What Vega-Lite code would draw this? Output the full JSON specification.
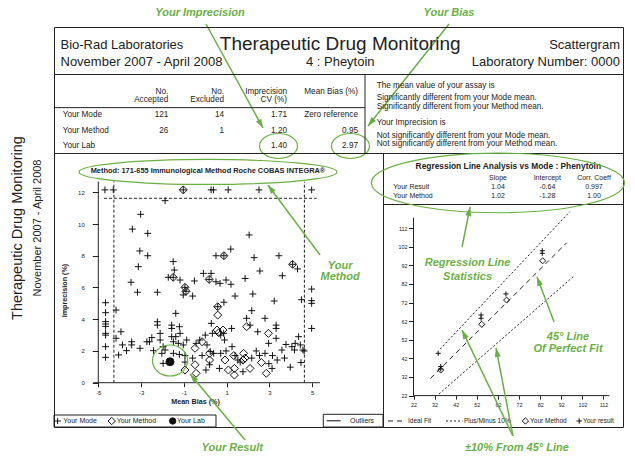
{
  "$schema": "https://vega.github.io/schema/vega-lite/v6.json",
  "padding": 0,
  "background": "white",
  "bounds": "flush",
  "spacing": 0,
  "config": {
    "font": "Liberation Sans",
    "view": {"stroke": "#222", "strokeWidth": 1},
    "concat": {"spacing": 0},
    "text": {"font": "Liberation Sans", "color": "#222"},
    "axis": {"labelFont": "Liberation Sans", "titleFont": "Liberation Sans", "grid": false, "domain": false, "tickColor": "#222", "labelColor": "#222", "titleColor": "#222", "labelOverlap": false, "labelFlush": false}
  },
  "datasets": {
    "tableHead": [
      {"text": "No.", "col": 1, "line": 0}, {"text": "Accepted", "col": 1, "line": 1},
      {"text": "No.", "col": 2, "line": 0}, {"text": "Excluded", "col": 2, "line": 1},
      {"text": "Imprecision", "col": 3, "line": 0}, {"text": "CV (%)", "col": 3, "line": 1},
      {"text": "Mean Bias (%)", "col": 4, "line": 0}
    ],
    "tableBody": [
      {"text": "Your Mode", "col": 0, "line": 0}, {"text": "121", "col": 1, "line": 0}, {"text": "14", "col": 2, "line": 0}, {"text": "1.71", "col": 3, "line": 0}, {"text": "Zero reference", "col": 4, "line": 0},
      {"text": "Your Method", "col": 0, "line": 1}, {"text": "26", "col": 1, "line": 1}, {"text": "1", "col": 2, "line": 1}, {"text": "1.20", "col": 3, "line": 1}, {"text": "0.95", "col": 4, "line": 1},
      {"text": "Your Lab", "col": 0, "line": 2}, {"text": "1.40", "col": 3, "line": 2}, {"text": "2.97", "col": 4, "line": 2}
    ],
    "notes": [
      {"text": "The mean value of your assay is", "line": 0},
      {"text": "Significantly different from your Mode mean.", "line": 1},
      {"text": "Significantly different from your Method mean.", "line": 2},
      {"text": "Your Imprecision is", "line": 3},
      {"text": "Not significantly different from your Mode mean.", "line": 4},
      {"text": "Not significantly different from your Method mean.", "line": 5}
    ],
    "scatter": [
      {"group": "Your Mode", "bias": -4.69, "cv": 12.15}, {"group": "Your Mode", "bias": -4.30, "cv": 12.15}, {"group": "Your Mode", "bias": -1.03, "cv": 12.15}, {"group": "Your Mode", "bias": 0.27, "cv": 12.15}, {"group": "Your Mode", "bias": 0.38, "cv": 12.15}, {"group": "Your Mode", "bias": 1.07, "cv": 12.15}, {"group": "Your Mode", "bias": 2.51, "cv": 12.15}, {"group": "Your Mode", "bias": 4.97, "cv": 12.15},
      {"group": "Your Mode", "bias": -1.88, "cv": 11.47}, {"group": "Your Mode", "bias": -3.02, "cv": 10.61}, {"group": "Your Mode", "bias": -3.41, "cv": 9.68}, {"group": "Your Mode", "bias": -2.69, "cv": 9.41}, {"group": "Your Mode", "bias": -3.06, "cv": 8.30}, {"group": "Your Mode", "bias": -2.69, "cv": 8.00}, {"group": "Your Mode", "bias": -3.13, "cv": 7.31}, {"group": "Your Mode", "bias": -3.47, "cv": 6.33}, {"group": "Your Mode", "bias": -3.17, "cv": 5.70}, {"group": "Your Mode", "bias": -2.24, "cv": 5.70}, {"group": "Your Mode", "bias": -4.66, "cv": 5.04},
      {"group": "Your Mode", "bias": -1.50, "cv": 7.63}, {"group": "Your Mode", "bias": -1.45, "cv": 7.10}, {"group": "Your Mode", "bias": -1.73, "cv": 6.64}, {"group": "Your Mode", "bias": -1.50, "cv": 6.64}, {"group": "Your Mode", "bias": -1.18, "cv": 6.47}, {"group": "Your Mode", "bias": -0.95, "cv": 6.01}, {"group": "Your Mode", "bias": -0.90, "cv": 5.76}, {"group": "Your Mode", "bias": -1.03, "cv": 5.53}, {"group": "Your Mode", "bias": -0.59, "cv": 5.46}, {"group": "Your Mode", "bias": -0.51, "cv": 6.41}, {"group": "Your Mode", "bias": -0.09, "cv": 6.89}, {"group": "Your Mode", "bias": 0.27, "cv": 6.89}, {"group": "Your Mode", "bias": 0.18, "cv": 6.51}, {"group": "Your Mode", "bias": 0.50, "cv": 6.36}, {"group": "Your Mode", "bias": 0.69, "cv": 6.26}, {"group": "Your Mode", "bias": 0.97, "cv": 6.47}, {"group": "Your Mode", "bias": 1.20, "cv": 6.20}, {"group": "Your Mode", "bias": 0.50, "cv": 8.00}, {"group": "Your Mode", "bias": 0.87, "cv": 8.00}, {"group": "Your Mode", "bias": 1.19, "cv": 8.42}, {"group": "Your Mode", "bias": 1.39, "cv": 5.46}, {"group": "Your Mode", "bias": 0.87, "cv": 5.07}, {"group": "Your Mode", "bias": 0.58, "cv": 4.79}, {"group": "Your Mode", "bias": 1.86, "cv": 6.57}, {"group": "Your Mode", "bias": 2.05, "cv": 9.31}, {"group": "Your Mode", "bias": 2.28, "cv": 7.88}, {"group": "Your Mode", "bias": 2.55, "cv": 7.04}, {"group": "Your Mode", "bias": 2.22, "cv": 5.59}, {"group": "Your Mode", "bias": 2.17, "cv": 4.54}, {"group": "Your Mode", "bias": 3.44, "cv": 8.00}, {"group": "Your Mode", "bias": 3.60, "cv": 6.74}, {"group": "Your Mode", "bias": 4.08, "cv": 7.46}, {"group": "Your Mode", "bias": 4.31, "cv": 7.17}, {"group": "Your Mode", "bias": 3.22, "cv": 5.15}, {"group": "Your Mode", "bias": 4.50, "cv": 5.23}, {"group": "Your Mode", "bias": 4.97, "cv": 5.90}, {"group": "Your Mode", "bias": 4.97, "cv": 5.17}, {"group": "Your Mode", "bias": 4.97, "cv": 5.00},
      {"group": "Your Mode", "bias": -4.66, "cv": 4.41}, {"group": "Your Mode", "bias": -4.66, "cv": 3.85}, {"group": "Your Mode", "bias": -4.66, "cv": 3.70}, {"group": "Your Mode", "bias": -4.66, "cv": 3.55}, {"group": "Your Mode", "bias": -4.66, "cv": 3.11}, {"group": "Your Mode", "bias": -4.66, "cv": 3.00}, {"group": "Your Mode", "bias": -4.66, "cv": 2.27}, {"group": "Your Mode", "bias": -4.66, "cv": 1.60}, {"group": "Your Mode", "bias": -4.17, "cv": 4.58}, {"group": "Your Mode", "bias": -4.17, "cv": 2.80}, {"group": "Your Mode", "bias": -3.94, "cv": 3.21}, {"group": "Your Mode", "bias": -4.05, "cv": 1.75}, {"group": "Your Mode", "bias": -3.87, "cv": 2.38}, {"group": "Your Mode", "bias": -3.68, "cv": 2.02}, {"group": "Your Mode", "bias": -3.44, "cv": 2.58}, {"group": "Your Mode", "bias": -3.44, "cv": 2.38}, {"group": "Your Mode", "bias": -3.05, "cv": 2.17}, {"group": "Your Mode", "bias": -2.73, "cv": 2.58}, {"group": "Your Mode", "bias": -2.61, "cv": 2.58}, {"group": "Your Mode", "bias": -2.50, "cv": 2.84}, {"group": "Your Mode", "bias": -2.42, "cv": 2.02}, {"group": "Your Mode", "bias": -2.24, "cv": 3.84}, {"group": "Your Mode", "bias": -2.24, "cv": 3.63}, {"group": "Your Mode", "bias": -2.11, "cv": 3.11}, {"group": "Your Mode", "bias": -2.11, "cv": 2.69}, {"group": "Your Mode", "bias": -1.97, "cv": 2.27}, {"group": "Your Mode", "bias": -1.88, "cv": 2.06}, {"group": "Your Mode", "bias": -2.03, "cv": 1.85}, {"group": "Your Mode", "bias": -1.97, "cv": 1.22}, {"group": "Your Mode", "bias": -1.57, "cv": 3.63}, {"group": "Your Mode", "bias": -1.57, "cv": 3.42}, {"group": "Your Mode", "bias": -1.38, "cv": 4.37}, {"group": "Your Mode", "bias": -1.21, "cv": 3.53}, {"group": "Your Mode", "bias": -1.18, "cv": 3.11}, {"group": "Your Mode", "bias": -1.57, "cv": 2.90}, {"group": "Your Mode", "bias": -1.49, "cv": 2.58}, {"group": "Your Mode", "bias": -1.38, "cv": 2.90}, {"group": "Your Mode", "bias": -1.26, "cv": 2.48}, {"group": "Your Mode", "bias": -1.03, "cv": 2.38}, {"group": "Your Mode", "bias": -0.87, "cv": 2.69}, {"group": "Your Mode", "bias": -1.21, "cv": 1.78}, {"group": "Your Mode", "bias": -0.95, "cv": 1.71}, {"group": "Your Mode", "bias": -0.95, "cv": 1.30}, {"group": "Your Mode", "bias": -1.49, "cv": 1.85}, {"group": "Your Mode", "bias": -0.59, "cv": 1.55}, {"group": "Your Mode", "bias": -0.43, "cv": 2.48}, {"group": "Your Mode", "bias": -0.26, "cv": 2.69}, {"group": "Your Mode", "bias": -0.15, "cv": 1.71}, {"group": "Your Mode", "bias": 0.00, "cv": 3.00}, {"group": "Your Mode", "bias": 0.08, "cv": 2.38}, {"group": "Your Mode", "bias": 0.23, "cv": 1.96}, {"group": "Your Mode", "bias": 0.20, "cv": 1.13}, {"group": "Your Mode", "bias": 0.03, "cv": 0.80}, {"group": "Your Mode", "bias": 0.33, "cv": 3.11}, {"group": "Your Mode", "bias": 0.28, "cv": 3.74}, {"group": "Your Mode", "bias": 0.39, "cv": 1.85}, {"group": "Your Mode", "bias": 0.72, "cv": 3.00}, {"group": "Your Mode", "bias": 0.86, "cv": 3.11}, {"group": "Your Mode", "bias": 0.90, "cv": 2.69}, {"group": "Your Mode", "bias": 0.72, "cv": 1.85}, {"group": "Your Mode", "bias": 0.66, "cv": 0.90}, {"group": "Your Mode", "bias": 0.97, "cv": 2.00}, {"group": "Your Mode", "bias": 1.23, "cv": 3.42}, {"group": "Your Mode", "bias": 1.25, "cv": 2.27}, {"group": "Your Mode", "bias": 1.39, "cv": 1.71}, {"group": "Your Mode", "bias": 1.52, "cv": 1.43}, {"group": "Your Mode", "bias": 1.63, "cv": 1.30}, {"group": "Your Mode", "bias": 1.76, "cv": 0.69}, {"group": "Your Mode", "bias": 1.93, "cv": 4.06}, {"group": "Your Mode", "bias": 2.09, "cv": 3.63}, {"group": "Your Mode", "bias": 2.17, "cv": 1.55}, {"group": "Your Mode", "bias": 2.45, "cv": 3.21}, {"group": "Your Mode", "bias": 2.38, "cv": 2.00}, {"group": "Your Mode", "bias": 2.53, "cv": 1.71}, {"group": "Your Mode", "bias": 2.79, "cv": 4.06}, {"group": "Your Mode", "bias": 3.31, "cv": 3.63}, {"group": "Your Mode", "bias": 3.31, "cv": 3.42}, {"group": "Your Mode", "bias": 3.31, "cv": 2.80}, {"group": "Your Mode", "bias": 2.96, "cv": 2.48}, {"group": "Your Mode", "bias": 2.79, "cv": 1.85}, {"group": "Your Mode", "bias": 3.12, "cv": 0.90}, {"group": "Your Mode", "bias": 2.97, "cv": 1.20}, {"group": "Your Mode", "bias": 3.14, "cv": 1.71}, {"group": "Your Mode", "bias": 3.36, "cv": 1.43}, {"group": "Your Mode", "bias": 3.58, "cv": 2.06}, {"group": "Your Mode", "bias": 3.70, "cv": 1.55}, {"group": "Your Mode", "bias": 3.77, "cv": 2.41}, {"group": "Your Mode", "bias": 3.97, "cv": 0.98}, {"group": "Your Mode", "bias": 4.05, "cv": 2.27}, {"group": "Your Mode", "bias": 4.20, "cv": 2.48}, {"group": "Your Mode", "bias": 4.17, "cv": 2.06}, {"group": "Your Mode", "bias": 4.36, "cv": 2.90}, {"group": "Your Mode", "bias": 4.44, "cv": 2.38}, {"group": "Your Mode", "bias": 4.47, "cv": 1.27}, {"group": "Your Mode", "bias": 4.56, "cv": 2.06}, {"group": "Your Mode", "bias": 4.62, "cv": 2.00}, {"group": "Your Mode", "bias": 4.97, "cv": 3.42},
      {"group": "Your Method", "bias": -1.03, "cv": 12.15}, {"group": "Your Method", "bias": -1.50, "cv": 6.64}, {"group": "Your Method", "bias": 0.18, "cv": 6.51}, {"group": "Your Method", "bias": -0.95, "cv": 6.01}, {"group": "Your Method", "bias": -0.90, "cv": 5.76}, {"group": "Your Method", "bias": 0.87, "cv": 8.00}, {"group": "Your Method", "bias": 0.58, "cv": 4.79}, {"group": "Your Method", "bias": 4.08, "cv": 7.46}, {"group": "Your Method", "bias": 0.58, "cv": 4.26}, {"group": "Your Method", "bias": 0.55, "cv": 3.32}, {"group": "Your Method", "bias": 0.63, "cv": 3.15}, {"group": "Your Method", "bias": 0.83, "cv": 3.32}, {"group": "Your Method", "bias": 0.92, "cv": 1.43}, {"group": "Your Method", "bias": 1.08, "cv": 0.80}, {"group": "Your Method", "bias": 1.36, "cv": 0.90}, {"group": "Your Method", "bias": 1.36, "cv": 0.48}, {"group": "Your Method", "bias": 1.79, "cv": 1.85}, {"group": "Your Method", "bias": 1.76, "cv": 1.43}, {"group": "Your Method", "bias": 1.86, "cv": 1.55}, {"group": "Your Method", "bias": 1.93, "cv": 3.53}, {"group": "Your Method", "bias": 2.09, "cv": 0.90}, {"group": "Your Method", "bias": 2.95, "cv": 3.11}, {"group": "Your Method", "bias": 2.62, "cv": 1.27}, {"group": "Your Method", "bias": 2.85, "cv": 0.59}, {"group": "Your Method", "bias": -0.95, "cv": 0.80}, {"group": "Your Method", "bias": -0.48, "cv": 1.13}, {"group": "Your Method", "bias": -0.43, "cv": 0.59}, {"group": "Your Method", "bias": -0.48, "cv": 2.17}, {"group": "Your Method", "bias": -0.15, "cv": 2.58}, {"group": "Your Method", "bias": 0.20, "cv": 1.85}, {"group": "Your Method", "bias": 0.20, "cv": 1.43}, {"group": "Your Method", "bias": 1.33, "cv": 1.71},
      {"group": "Your Lab", "bias": -1.65, "cv": 1.32}
    ],
    "regression": [
      {"series": "Your Method", "mode": 34.9, "result": 35.7}, {"series": "Your Method", "mode": 54.3, "result": 60.3}, {"series": "Your Method", "mode": 66.1, "result": 73.3}, {"series": "Your Method", "mode": 83.2, "result": 94.4},
      {"series": "Your result", "mode": 33.7, "result": 44.7}, {"series": "Your result", "mode": 34.9, "result": 37.6}, {"series": "Your result", "mode": 34.9, "result": 36.3}, {"series": "Your result", "mode": 54.0, "result": 65.3}, {"series": "Your result", "mode": 54.0, "result": 63.5}, {"series": "Your result", "mode": 65.8, "result": 76.6}, {"series": "Your result", "mode": 83.0, "result": 99.8}, {"series": "Your result", "mode": 83.0, "result": 98.4}
    ]
  },
  "hconcat": [
    {
      "width": 54, "height": 456, "view": {"stroke": null},
      "data": {"values": [{"text": "Therapeutic Drug Monitoring", "kind": "Title"}, {"text": "November 2007 - April 2008", "kind": "Period"}]},
      "mark": {"type": "text", "angle": 270, "baseline": "middle", "align": "center", "color": "#222"},
      "encoding": {
        "x": {"field": "kind", "type": "nominal", "scale": {"type": "point", "domain": ["Title", "Period"], "range": [18, 38], "padding": 0}, "axis": null},
        "text": {"field": "text"},
        "size": {"field": "kind", "type": "nominal", "scale": {"domain": ["Title", "Period"], "range": [14.5, 11]}, "legend": null}
      }
    },
    {
      "bounds": "flush", "spacing": 0,
      "vconcat": [
        {
          "width": 581, "height": 27, "view": {"stroke": null},
          "layer": [
            {"data": {"values": [{"note": "Your Imprecision"}]},
             "mark": {"type": "text", "color": "#6aaf45", "fontSize": 11, "fontWeight": "bold", "fontStyle": "italic", "align": "center", "baseline": "middle"},
             "encoding": {"x": {"datum": 146, "type": "quantitative", "scale": {"domain": [0, 581], "nice": false, "zero": false}, "axis": null},
                          "y": {"datum": 13, "type": "quantitative", "scale": {"domain": [0, 27], "reverse": true, "nice": false, "zero": false}, "axis": null},
                          "text": {"field": "note"}}},
            {"data": {"values": [{"note": "Your Bias"}]},
             "mark": {"type": "text", "color": "#6aaf45", "fontSize": 11, "fontWeight": "bold", "fontStyle": "italic", "align": "center", "baseline": "middle"},
             "encoding": {"x": {"datum": 395, "type": "quantitative", "scale": {"domain": [0, 581], "nice": false, "zero": false}, "axis": null},
                          "y": {"datum": 13, "type": "quantitative", "scale": {"domain": [0, 27], "reverse": true, "nice": false, "zero": false}, "axis": null},
                          "text": {"field": "note"}}},
            {"data": {"values": [{"note": "Your Imprecision"}]},
             "mark": {"type": "rule", "color": "#6aaf45", "strokeWidth": 1.5, "clip": false},
             "encoding": {"x": {"datum": 152, "type": "quantitative", "scale": {"domain": [0, 581], "nice": false, "zero": false}, "axis": null},
                          "y": {"datum": 24, "type": "quantitative", "scale": {"domain": [0, 27], "reverse": true, "nice": false, "zero": false}, "axis": null},
                          "x2": {"datum": 209}, "y2": {"datum": 128}}},
            {"data": {"values": [{"note": "Your Imprecision"}]},
             "mark": {"type": "point", "shape": "M0,0L0.6,1.8L-0.6,1.8Z", "size": 100, "filled": true, "color": "#6aaf45", "opacity": 1, "angle": 150.8, "clip": false},
             "encoding": {"x": {"datum": 209, "type": "quantitative", "scale": {"domain": [0, 581], "nice": false, "zero": false}, "axis": null},
                          "y": {"datum": 128, "type": "quantitative", "scale": {"domain": [0, 27], "reverse": true, "nice": false, "zero": false}, "axis": null}}},
            {"data": {"values": [{"note": "Your Bias"}]},
             "mark": {"type": "rule", "color": "#6aaf45", "strokeWidth": 1.5, "clip": false},
             "encoding": {"x": {"datum": 395, "type": "quantitative", "scale": {"domain": [0, 581], "nice": false, "zero": false}, "axis": null},
                          "y": {"datum": 24, "type": "quantitative", "scale": {"domain": [0, 27], "reverse": true, "nice": false, "zero": false}, "axis": null},
                          "x2": {"datum": 314}, "y2": {"datum": 126}}},
            {"data": {"values": [{"note": "Your Bias"}]},
             "mark": {"type": "point", "shape": "M0,0L0.6,1.8L-0.6,1.8Z", "size": 100, "filled": true, "color": "#6aaf45", "opacity": 1, "angle": -141, "clip": false},
             "encoding": {"x": {"datum": 314, "type": "quantitative", "scale": {"domain": [0, 581], "nice": false, "zero": false}, "axis": null},
                          "y": {"datum": 126, "type": "quantitative", "scale": {"domain": [0, 27], "reverse": true, "nice": false, "zero": false}, "axis": null}}}
          ]
        },
        {
          "width": 569, "height": 47,
          "data": {"values": [
            {"text": "Bio-Rad Laboratories", "col": 0, "line": 0},
            {"text": "November 2007 - April 2008", "col": 0, "line": 1},
            {"text": "Therapeutic Drug Monitoring", "col": 1, "line": 0},
            {"text": "4 : Pheytoin", "col": 1, "line": 1},
            {"text": "Scattergram", "col": 2, "line": 0},
            {"text": "Laboratory Number:  0000", "col": 2, "line": 1}
          ]},
          "layer": [
            {"transform": [{"filter": "datum.col == 0"}],
             "mark": {"type": "text", "align": "left", "baseline": "middle", "fontSize": 13},
             "encoding": {"x": {"field": "col", "type": "quantitative", "scale": {"domain": [0, 2], "range": [6.5, 566], "nice": false, "zero": false}, "axis": null},
                          "y": {"field": "line", "type": "quantitative", "scale": {"domain": [0, 1], "range": [18, 34.7], "nice": false, "zero": false}, "axis": null},
                          "text": {"field": "text"}}},
            {"transform": [{"filter": "datum.col == 1 && datum.line == 0"}],
             "mark": {"type": "text", "align": "center", "baseline": "middle", "fontSize": 19, "dy": -1.5},
             "encoding": {"x": {"field": "col", "type": "quantitative", "scale": {"domain": [0, 2], "range": [6.5, 566], "nice": false, "zero": false}, "axis": null},
                          "y": {"field": "line", "type": "quantitative", "scale": {"domain": [0, 1], "range": [18, 34.7], "nice": false, "zero": false}, "axis": null},
                          "text": {"field": "text"}}},
            {"transform": [{"filter": "datum.col == 1 && datum.line == 1"}],
             "mark": {"type": "text", "align": "center", "baseline": "middle", "fontSize": 13},
             "encoding": {"x": {"field": "col", "type": "quantitative", "scale": {"domain": [0, 2], "range": [6.5, 566], "nice": false, "zero": false}, "axis": null},
                          "y": {"field": "line", "type": "quantitative", "scale": {"domain": [0, 1], "range": [18, 34.7], "nice": false, "zero": false}, "axis": null},
                          "text": {"field": "text"}}},
            {"transform": [{"filter": "datum.col == 2"}],
             "mark": {"type": "text", "align": "right", "baseline": "middle", "fontSize": 13},
             "encoding": {"x": {"field": "col", "type": "quantitative", "scale": {"domain": [0, 2], "range": [6.5, 566], "nice": false, "zero": false}, "axis": null},
                          "y": {"field": "line", "type": "quantitative", "scale": {"domain": [0, 1], "range": [18, 34.7], "nice": false, "zero": false}, "axis": null},
                          "text": {"field": "text"}}}
          ]
        },
        {
          "width": 569, "height": 79,
          "resolve": {"scale": {"x": "independent", "y": "independent"}},
          "layer": [
            {"data": {"name": "tableHead"},
             "mark": {"type": "text", "align": "right", "baseline": "middle", "fontSize": 8.2},
             "encoding": {"x": {"field": "col", "type": "quantitative", "scale": {"domain": [0, 1, 2, 3, 4], "range": [8.7, 114.3, 170, 233, 304], "nice": false, "zero": false}, "axis": null},
                          "y": {"field": "line", "type": "quantitative", "scale": {"domain": [0, 1], "range": [17.7, 26], "nice": false, "zero": false}, "axis": null},
                          "text": {"field": "text"}}},
            {"data": {"name": "tableBody"}, "transform": [{"filter": "datum.col == 0"}],
             "mark": {"type": "text", "align": "left", "baseline": "middle", "fontSize": 8.2},
             "encoding": {"x": {"field": "col", "type": "quantitative", "scale": {"domain": [0, 1, 2, 3, 4], "range": [8.7, 114.3, 170, 233, 304], "nice": false, "zero": false}, "axis": null},
                          "y": {"field": "line", "type": "quantitative", "scale": {"domain": [0, 2], "range": [41.3, 72], "nice": false, "zero": false}, "axis": null},
                          "text": {"field": "text"}}},
            {"data": {"name": "tableBody"}, "transform": [{"filter": "datum.col > 0"}],
             "mark": {"type": "text", "align": "right", "baseline": "middle", "fontSize": 8.2},
             "encoding": {"x": {"field": "col", "type": "quantitative", "scale": {"domain": [0, 1, 2, 3, 4], "range": [8.7, 114.3, 170, 233, 304], "nice": false, "zero": false}, "axis": null},
                          "y": {"field": "line", "type": "quantitative", "scale": {"domain": [0, 2], "range": [41.3, 72], "nice": false, "zero": false}, "axis": null},
                          "text": {"field": "text"}}},
            {"data": {"values": [{"note": "Your Lab imprecision"}]},
             "mark": {"type": "point", "shape": "M1,0C1,0.363 0.5523,0.658 0,0.658C-0.5523,0.658 -1,0.363 -1,0C-1,-0.363 -0.5523,-0.658 0,-0.658C0.5523,-0.658 1,-0.363 1,0Z", "size": 1444, "color": "#6aaf45", "strokeWidth": 1.2, "opacity": 1, "clip": false},
             "encoding": {"x": {"datum": 2.865, "type": "quantitative", "scale": {"domain": [0, 1, 2, 3, 4], "range": [8.7, 114.3, 170, 233, 304], "nice": false, "zero": false}, "axis": null},
                          "y": {"datum": 2, "type": "quantitative", "scale": {"domain": [0, 2], "range": [41.3, 72], "nice": false, "zero": false}, "axis": null}}},
            {"data": {"values": [{"note": "Your Lab bias"}]},
             "mark": {"type": "point", "shape": "M1,0C1,0.363 0.5523,0.658 0,0.658C-0.5523,0.658 -1,0.363 -1,0C-1,-0.363 -0.5523,-0.658 0,-0.658C0.5523,-0.658 1,-0.363 1,0Z", "size": 1444, "color": "#6aaf45", "strokeWidth": 1.2, "opacity": 1, "clip": false},
             "encoding": {"x": {"datum": 3.894, "type": "quantitative", "scale": {"domain": [0, 1, 2, 3, 4], "range": [8.7, 114.3, 170, 233, 304], "nice": false, "zero": false}, "axis": null},
                          "y": {"datum": 2, "type": "quantitative", "scale": {"domain": [0, 2], "range": [41.3, 72], "nice": false, "zero": false}, "axis": null}}},
            {"data": {"values": [{"part": "header rule"}]},
             "mark": {"type": "rule", "color": "#222", "strokeWidth": 1},
             "encoding": {"x": {"datum": -0.0824, "type": "quantitative", "scale": {"domain": [0, 1, 2, 3, 4], "range": [8.7, 114.3, 170, 233, 304], "nice": false, "zero": false}, "axis": null},
                          "x2": {"datum": 4.0986},
                          "y": {"datum": -0.5, "type": "quantitative", "scale": {"domain": [0, 2], "range": [41.3, 72], "nice": false, "zero": false}, "axis": null}}},
            {"data": {"values": [{"part": "divider"}]},
             "mark": {"type": "rule", "color": "#222", "strokeWidth": 1},
             "encoding": {"x": {"datum": 4.0986, "type": "quantitative", "scale": {"domain": [0, 1, 2, 3, 4], "range": [8.7, 114.3, 170, 233, 304], "nice": false, "zero": false}, "axis": null},
                          "y": {"datum": 0, "type": "quantitative", "scale": {"domain": [0, 1], "range": [0, 79], "nice": false, "zero": false}, "axis": null},
                          "y2": {"datum": 1}}},
            {"data": {"name": "notes"},
             "mark": {"type": "text", "align": "left", "baseline": "middle", "fontSize": 8.2},
             "encoding": {"x": {"datum": 0, "type": "quantitative", "scale": {"domain": [0, 1], "range": [322.7, 560], "nice": false, "zero": false}, "axis": null},
                          "y": {"field": "line", "type": "quantitative", "scale": {"domain": [0, 1, 2, 3, 4, 5], "range": [12, 24.3, 32.7, 49.3, 62, 70.3], "nice": false, "zero": false}, "axis": null},
                          "text": {"field": "text"}}}
          ]
        },
        {
          "bounds": "flush", "spacing": 0,
          "hconcat": [
            {
              "width": 329, "height": 274,
              "layer": [
                {"data": {"name": "scatter"},
                 "mark": {"type": "point", "stroke": "#111", "strokeWidth": 1, "opacity": 1, "size": 64},
                 "encoding": {
                   "x": {"field": "bias", "type": "quantitative", "scale": {"domain": [-7.07, 8.304], "nice": false, "zero": false},
                         "axis": {"orient": "bottom", "offset": -44.3, "values": [-5, -3, -1, 1, 3, 5], "tickCount": 30, "labelExpr": "'' + datum.value", "tickSize": 4, "labelFontSize": 6, "labelPadding": 3, "labelOverlap": false, "labelFlush": false, "title": "Mean Bias (%)", "titleFontSize": 7.2, "titleFontWeight": "bold", "titlePadding": 2, "titleX": 141}},
                   "y": {"field": "cv", "type": "quantitative", "scale": {"domain": [-2.791, 14.474], "nice": false, "zero": false},
                         "axis": {"orient": "left", "offset": -44.3, "values": [0, 2, 4, 6, 8, 10, 12], "tickCount": 30, "labelExpr": "'' + datum.value", "tickSize": 6, "labelFontSize": 6, "labelPadding": 8, "labelOverlap": false, "labelFlush": false, "title": "Imprecision (%)", "titleFontSize": 7.2, "titleFontWeight": "bold", "titleX": -33.8, "titleBaseline": "middle"}},
                   "shape": {"field": "group", "type": "nominal", "scale": {"domain": ["Your Mode", "Your Method", "Your Lab"], "range": ["M-0.85,0L0.85,0M0,-0.85L0,0.85", "diamond", "circle"]}, "legend": null},
                   "fill": {"field": "group", "type": "nominal", "scale": {"domain": ["Your Mode", "Your Method", "Your Lab"], "range": ["transparent", "transparent", "#111"]}, "legend": null}
                 }},
                {"data": {"values": [{"part": "x axis"}]},
                 "mark": {"type": "rule", "color": "#222", "strokeWidth": 1},
                 "encoding": {
                   "x": {"datum": -5.24, "type": "quantitative", "scale": {"domain": [-7.07, 8.304], "nice": false, "zero": false}},
                   "x2": {"datum": 5.36},
                   "y": {"datum": 0, "type": "quantitative", "scale": {"domain": [-2.791, 14.474], "nice": false, "zero": false}}
                 }},
                {"data": {"values": [{"part": "y axis"}]},
                 "mark": {"type": "rule", "color": "#222", "strokeWidth": 1},
                 "encoding": {
                   "x": {"datum": -5, "type": "quantitative", "scale": {"domain": [-7.07, 8.304], "nice": false, "zero": false}},
                   "y": {"datum": 0, "type": "quantitative", "scale": {"domain": [-2.791, 14.474], "nice": false, "zero": false}},
                   "y2": {"datum": 12.67}
                 }},
                {"data": {"values": [{"limit": "Outliers", "bias": -4.27}, {"limit": "Outliers", "bias": 4.63}]},
                 "mark": {"type": "rule", "strokeDash": [3, 2], "strokeWidth": 1, "color": "#222"},
                 "encoding": {
                   "x": {"field": "bias", "type": "quantitative", "scale": {"domain": [-7.07, 8.304], "nice": false, "zero": false}},
                   "y": {"datum": 0, "type": "quantitative", "scale": {"domain": [-2.791, 14.474], "nice": false, "zero": false}},
                   "y2": {"datum": 12.67}
                 }},
                {"data": {"values": [{"limit": "Outliers", "cv": 11.62}]},
                 "mark": {"type": "rule", "strokeDash": [3, 2], "strokeWidth": 1, "color": "#222"},
                 "encoding": {
                   "x": {"datum": -4.73, "type": "quantitative", "scale": {"domain": [-7.07, 8.304], "nice": false, "zero": false}},
                   "x2": {"datum": 5.2},
                   "y": {"field": "cv", "type": "quantitative", "scale": {"domain": [-2.791, 14.474], "nice": false, "zero": false}}
                 }},
                {"data": {"values": [{"box": "group legend"}]},
                 "mark": {"type": "rect", "fillOpacity": 0, "stroke": "#222", "strokeWidth": 1},
                 "encoding": {
                   "x": {"datum": -7.07, "type": "quantitative", "scale": {"domain": [-7.07, 8.304], "nice": false, "zero": false}},
                   "x2": {"datum": 0.5},
                   "y": {"datum": -2.035, "type": "quantitative", "scale": {"domain": [-2.791, 14.474], "nice": false, "zero": false}},
                   "y2": {"datum": -2.791}
                 }},
                {"data": {"values": [{"box": "outlier legend"}]},
                 "mark": {"type": "rect", "fillOpacity": 0, "stroke": "#222", "strokeWidth": 1},
                 "encoding": {
                   "x": {"datum": 5.514, "type": "quantitative", "scale": {"domain": [-7.07, 8.304], "nice": false, "zero": false}},
                   "x2": {"datum": 8.304},
                   "y": {"datum": -1.991, "type": "quantitative", "scale": {"domain": [-2.791, 14.474], "nice": false, "zero": false}},
                   "y2": {"datum": -2.791}
                 }},
                {"data": {"values": [{"group": "Your Mode"}]},
                 "mark": {"type": "point", "stroke": "#111", "strokeWidth": 1, "opacity": 1, "size": 56},
                 "encoding": {
                   "x": {"datum": -6.90, "type": "quantitative", "scale": {"domain": [-7.07, 8.304], "nice": false, "zero": false}},
                   "y": {"datum": -2.413, "type": "quantitative", "scale": {"domain": [-2.791, 14.474], "nice": false, "zero": false}},
                   "shape": {"field": "group", "type": "nominal", "scale": {"domain": ["Your Mode", "Your Method", "Your Lab"], "range": ["M-0.85,0L0.85,0M0,-0.85L0,0.85", "diamond", "circle"]}, "legend": null},
                   "fill": {"field": "group", "type": "nominal", "scale": {"domain": ["Your Mode", "Your Method", "Your Lab"], "range": ["transparent", "transparent", "#111"]}, "legend": null}
                 }},
                {"data": {"values": [{"group": "Your Method"}]},
                 "mark": {"type": "point", "stroke": "#111", "strokeWidth": 1, "opacity": 1, "size": 56},
                 "encoding": {
                   "x": {"datum": -4.374, "type": "quantitative", "scale": {"domain": [-7.07, 8.304], "nice": false, "zero": false}},
                   "y": {"datum": -2.413, "type": "quantitative", "scale": {"domain": [-2.791, 14.474], "nice": false, "zero": false}},
                   "shape": {"field": "group", "type": "nominal", "scale": {"domain": ["Your Mode", "Your Method", "Your Lab"], "range": ["M-0.85,0L0.85,0M0,-0.85L0,0.85", "diamond", "circle"]}, "legend": null},
                   "fill": {"field": "group", "type": "nominal", "scale": {"domain": ["Your Mode", "Your Method", "Your Lab"], "range": ["transparent", "transparent", "#111"]}, "legend": null}
                 }},
                {"data": {"values": [{"group": "Your Lab"}]},
                 "mark": {"type": "point", "stroke": "#111", "strokeWidth": 1, "opacity": 1, "size": 40},
                 "encoding": {
                   "x": {"datum": -1.524, "type": "quantitative", "scale": {"domain": [-7.07, 8.304], "nice": false, "zero": false}},
                   "y": {"datum": -2.413, "type": "quantitative", "scale": {"domain": [-2.791, 14.474], "nice": false, "zero": false}},
                   "shape": {"field": "group", "type": "nominal", "scale": {"domain": ["Your Mode", "Your Method", "Your Lab"], "range": ["M-0.85,0L0.85,0M0,-0.85L0,0.85", "diamond", "circle"]}, "legend": null},
                   "fill": {"field": "group", "type": "nominal", "scale": {"domain": ["Your Mode", "Your Method", "Your Lab"], "range": ["transparent", "transparent", "#111"]}, "legend": null}
                 }},
                {"data": {"values": [{"label": "Your Mode"}]},
                 "mark": {"type": "text", "fontSize": 7, "align": "left", "baseline": "middle"},
                 "encoding": {
                   "x": {"datum": -6.636, "type": "quantitative", "scale": {"domain": [-7.07, 8.304], "nice": false, "zero": false}},
                   "y": {"datum": -2.413, "type": "quantitative", "scale": {"domain": [-2.791, 14.474], "nice": false, "zero": false}},
                   "text": {"field": "label"}
                 }},
                {"data": {"values": [{"label": "Your Method"}]},
                 "mark": {"type": "text", "fontSize": 7, "align": "left", "baseline": "middle"},
                 "encoding": {
                   "x": {"datum": -4.14, "type": "quantitative", "scale": {"domain": [-7.07, 8.304], "nice": false, "zero": false}},
                   "y": {"datum": -2.413, "type": "quantitative", "scale": {"domain": [-2.791, 14.474], "nice": false, "zero": false}},
                   "text": {"field": "label"}
                 }},
                {"data": {"values": [{"label": "Your Lab"}]},
                 "mark": {"type": "text", "fontSize": 7, "align": "left", "baseline": "middle"},
                 "encoding": {
                   "x": {"datum": -1.322, "type": "quantitative", "scale": {"domain": [-7.07, 8.304], "nice": false, "zero": false}},
                   "y": {"datum": -2.413, "type": "quantitative", "scale": {"domain": [-2.791, 14.474], "nice": false, "zero": false}},
                   "text": {"field": "label"}
                 }},
                {"data": {"values": [{"label": "Outliers"}]},
                 "mark": {"type": "rule", "color": "#555", "strokeWidth": 1.5},
                 "encoding": {
                   "x": {"datum": 5.673, "type": "quantitative", "scale": {"domain": [-7.07, 8.304], "nice": false, "zero": false}},
                   "x2": {"datum": 6.327},
                   "y": {"datum": -2.394, "type": "quantitative", "scale": {"domain": [-2.791, 14.474], "nice": false, "zero": false}}
                 }},
                {"data": {"values": [{"label": "Outliers"}]},
                 "mark": {"type": "text", "fontSize": 7, "align": "left", "baseline": "middle"},
                 "encoding": {
                   "x": {"datum": 6.762, "type": "quantitative", "scale": {"domain": [-7.07, 8.304], "nice": false, "zero": false}},
                   "y": {"datum": -2.394, "type": "quantitative", "scale": {"domain": [-2.791, 14.474], "nice": false, "zero": false}},
                   "text": {"field": "label"}
                 }},
                {"data": {"values": [{"text": "Method: 171-655 Immunological Method Roche COBAS INTEGRA®"}]},
                 "mark": {"type": "text", "fontSize": 7.4, "fontWeight": "bold", "align": "center", "baseline": "middle", "color": "#222"},
                 "encoding": {
                   "x": {"datum": 0.126, "type": "quantitative", "scale": {"domain": [-7.07, 8.304], "nice": false, "zero": false}},
                   "y": {"datum": 13.37, "type": "quantitative", "scale": {"domain": [-2.791, 14.474], "nice": false, "zero": false}},
                   "text": {"field": "text"}
                 }},
                {"data": {"values": [{"note": "Your Method"}]},
                 "mark": {"type": "point", "shape": "M1,0C1,0.0535 0.5523,0.0969 0,0.0969C-0.5523,0.0969 -1,0.0535 -1,0C-1,-0.0535 -0.5523,-0.0969 0,-0.0969C0.5523,-0.0969 1,-0.0535 1,0Z", "size": 66564, "color": "#6aaf45", "strokeWidth": 1.2, "opacity": 1, "clip": false},
                 "encoding": {
                   "x": {"datum": 0.126, "type": "quantitative", "scale": {"domain": [-7.07, 8.304], "nice": false, "zero": false}},
                   "y": {"datum": 13.28, "type": "quantitative", "scale": {"domain": [-2.791, 14.474], "nice": false, "zero": false}}
                 }},
                {"data": {"values": [{"note": "Your Result"}]},
                 "mark": {"type": "point", "shape": "M1,0C1,0.489 0.5523,0.886 0,0.886C-0.5523,0.886 -1,0.489 -1,0C-1,-0.489 -0.5523,-0.886 0,-0.886C0.5523,-0.886 1,-0.489 1,0Z", "size": 1225, "color": "#6aaf45", "strokeWidth": 1.2, "opacity": 1, "clip": false},
                 "encoding": {
                   "x": {"datum": -1.65, "type": "quantitative", "scale": {"domain": [-7.07, 8.304], "nice": false, "zero": false}},
                   "y": {"datum": 1.40, "type": "quantitative", "scale": {"domain": [-2.791, 14.474], "nice": false, "zero": false}}
                 }},
                {"data": {"values": [{"note": ["Your", "Method"]}]},
                 "mark": {"type": "text", "color": "#6aaf45", "fontSize": 11, "fontWeight": "bold", "fontStyle": "italic", "lineHeight": 11.5, "align": "center", "baseline": "middle", "clip": false},
                 "encoding": {
                   "x": {"datum": 6.3, "type": "quantitative", "scale": {"domain": [-7.07, 8.304], "nice": false, "zero": false}},
                   "y": {"datum": 7.38, "type": "quantitative", "scale": {"domain": [-2.791, 14.474], "nice": false, "zero": false}},
                   "text": {"field": "note"}
                 }},
                {"data": {"values": [{"note": "Your Method"}]},
                 "mark": {"type": "rule", "color": "#6aaf45", "strokeWidth": 1.5, "clip": false},
                 "encoding": {
                   "x": {"datum": 5.36, "type": "quantitative", "scale": {"domain": [-7.07, 8.304], "nice": false, "zero": false}},
                   "y": {"datum": 8.05, "type": "quantitative", "scale": {"domain": [-2.791, 14.474], "nice": false, "zero": false}},
                   "x2": {"datum": 2.93}, "y2": {"datum": 12.46}
                 }},
                {"data": {"values": [{"note": "Your Method"}]},
                 "mark": {"type": "point", "shape": "M0,0L0.6,1.8L-0.6,1.8Z", "size": 100, "filled": true, "color": "#6aaf45", "opacity": 1, "angle": -36.6, "clip": false},
                 "encoding": {
                   "x": {"datum": 2.93, "type": "quantitative", "scale": {"domain": [-7.07, 8.304], "nice": false, "zero": false}},
                   "y": {"datum": 12.46, "type": "quantitative", "scale": {"domain": [-2.791, 14.474], "nice": false, "zero": false}}
                 }},
                {"data": {"values": [{"note": "Your Result"}]},
                 "mark": {"type": "text", "color": "#6aaf45", "fontSize": 11, "fontWeight": "bold", "fontStyle": "italic", "align": "center", "baseline": "middle", "clip": false},
                 "encoding": {
                   "x": {"datum": 1.26, "type": "quantitative", "scale": {"domain": [-7.07, 8.304], "nice": false, "zero": false}},
                   "y": {"datum": -4.11, "type": "quantitative", "scale": {"domain": [-2.791, 14.474], "nice": false, "zero": false}},
                   "text": {"field": "note"}
                 }},
                {"data": {"values": [{"note": "Your Result"}]},
                 "mark": {"type": "rule", "color": "#6aaf45", "strokeWidth": 1.5, "clip": false},
                 "encoding": {
                   "x": {"datum": 1.86, "type": "quantitative", "scale": {"domain": [-7.07, 8.304], "nice": false, "zero": false}},
                   "y": {"datum": -3.61, "type": "quantitative", "scale": {"domain": [-2.791, 14.474], "nice": false, "zero": false}},
                   "x2": {"datum": -0.71}, "y2": {"datum": 0.55}
                 }},
                {"data": {"values": [{"note": "Your Result"}]},
                 "mark": {"type": "point", "shape": "M0,0L0.6,1.8L-0.6,1.8Z", "size": 100, "filled": true, "color": "#6aaf45", "opacity": 1, "angle": -39.4, "clip": false},
                 "encoding": {
                   "x": {"datum": -0.71, "type": "quantitative", "scale": {"domain": [-7.07, 8.304], "nice": false, "zero": false}},
                   "y": {"datum": 0.55, "type": "quantitative", "scale": {"domain": [-2.791, 14.474], "nice": false, "zero": false}}
                 }}
              ]
            },
            {
              "bounds": "flush", "spacing": 0,
              "vconcat": [
                {
                  "width": 240, "height": 51,
                  "data": {"values": [
                    {"text": "Slope", "col": 1, "line": 1}, {"text": "Intercept", "col": 2, "line": 1}, {"text": "Corr. Coeff", "col": 3, "line": 1},
                    {"text": "Your Result", "col": 0, "line": 2}, {"text": "1.04", "col": 1, "line": 2}, {"text": "-0.64", "col": 2, "line": 2}, {"text": "0.997", "col": 3, "line": 2},
                    {"text": "Your Method", "col": 0, "line": 3}, {"text": "1.02", "col": 1, "line": 3}, {"text": "-1.28", "col": 2, "line": 3}, {"text": "1.00", "col": 3, "line": 3}
                  ]},
                  "layer": [
                    {"data": {"values": [{"text": "Regression Line Analysis vs Mode : Phenytoin"}]},
                     "mark": {"type": "text", "align": "center", "baseline": "middle", "fontSize": 8.4, "fontWeight": "bold"},
                     "encoding": {"x": {"datum": 1.209, "type": "quantitative", "scale": {"domain": [0, 1, 2, 3], "range": [10.3, 115, 164.3, 211], "nice": false, "zero": false}, "axis": null},
                                  "y": {"datum": 0, "type": "quantitative", "scale": {"domain": [0, 1, 2, 3], "range": [13, 25.3, 34, 43], "nice": false, "zero": false}, "axis": null},
                                  "text": {"field": "text"}}},
                    {"transform": [{"filter": "datum.col == 0"}],
                     "mark": {"type": "text", "align": "left", "baseline": "middle", "fontSize": 7},
                     "encoding": {"x": {"field": "col", "type": "quantitative", "scale": {"domain": [0, 1, 2, 3], "range": [10.3, 115, 164.3, 211], "nice": false, "zero": false}, "axis": null},
                                  "y": {"field": "line", "type": "quantitative", "scale": {"domain": [0, 1, 2, 3], "range": [13, 25.3, 34, 43], "nice": false, "zero": false}, "axis": null},
                                  "text": {"field": "text"}}},
                    {"transform": [{"filter": "datum.col > 0"}],
                     "mark": {"type": "text", "align": "center", "baseline": "middle", "fontSize": 7},
                     "encoding": {"x": {"field": "col", "type": "quantitative", "scale": {"domain": [0, 1, 2, 3], "range": [10.3, 115, 164.3, 211], "nice": false, "zero": false}, "axis": null},
                                  "y": {"field": "line", "type": "quantitative", "scale": {"domain": [0, 1, 2, 3], "range": [13, 25.3, 34, 43], "nice": false, "zero": false}, "axis": null},
                                  "text": {"field": "text"}}}
                  ]
                },
                {
                  "width": 240, "height": 223,
                  "layer": [
                    {"data": {"name": "regression"},
                     "mark": {"type": "point", "stroke": "#111", "strokeWidth": 1, "opacity": 1, "size": 36},
                     "encoding": {
                       "x": {"field": "mode", "type": "quantitative", "scale": {"domain": [7.552, 121.24], "nice": false, "zero": false},
                             "axis": {"orient": "bottom", "offset": -31.4, "values": [22, 32, 42, 52, 62, 72, 82, 92, 102, 112], "tickCount": 30, "tickSize": 3.5, "labelFontSize": 5.4, "labelPadding": 3, "labelOverlap": false, "labelFlush": false, "title": null}},
                       "y": {"field": "result", "type": "quantitative", "scale": {"domain": [5.137, 124.9], "nice": false, "zero": false},
                             "axis": {"orient": "left", "offset": -30.5, "values": [22, 32, 42, 52, 62, 72, 82, 92, 102, 112], "tickCount": 30, "tickSize": 5, "labelFontSize": 5.4, "labelPadding": 1.5, "labelOverlap": false, "labelFlush": false, "title": null}},
                       "shape": {"field": "series", "type": "nominal", "scale": {"domain": ["Your Method", "Your result"], "range": ["diamond", "M0,-1L0.225,-0.309L0.951,-0.309L0.363,0.118L0.588,0.809L0,0.382L-0.588,0.809L-0.363,0.118L-0.951,-0.309L-0.225,-0.309Z"]}, "legend": null},
                       "fill": {"field": "series", "type": "nominal", "scale": {"domain": ["Your Method", "Your result"], "range": ["transparent", "#111"]}, "legend": null}
                     }},
                    {"data": {"values": [{"part": "x axis"}]},
                     "mark": {"type": "rule", "color": "#222", "strokeWidth": 1},
                     "encoding": {
                       "x": {"datum": 22, "type": "quantitative", "scale": {"domain": [7.552, 121.24], "nice": false, "zero": false}},
                       "x2": {"datum": 114.8},
                       "y": {"datum": 22, "type": "quantitative", "scale": {"domain": [5.137, 124.9], "nice": false, "zero": false}}
                     }},
                    {"data": {"values": [{"part": "y axis"}]},
                     "mark": {"type": "rule", "color": "#222", "strokeWidth": 1},
                     "encoding": {
                       "x": {"datum": 22, "type": "quantitative", "scale": {"domain": [7.552, 121.24], "nice": false, "zero": false}},
                       "y": {"datum": 22, "type": "quantitative", "scale": {"domain": [5.137, 124.9], "nice": false, "zero": false}},
                       "y2": {"datum": 117.5}
                     }},
                    {"data": {"values": [
                      {"series": "Ideal Fit", "part": "ideal", "mode": 30.1, "result": 31.3}, {"series": "Ideal Fit", "part": "ideal", "mode": 94.6, "result": 104.1},
                      {"series": "Plus/Minus 10%", "part": "upper", "mode": 34.6, "result": 47.0}, {"series": "Plus/Minus 10%", "part": "upper", "mode": 96.1, "result": 120.8},
                      {"series": "Plus/Minus 10%", "part": "lower", "mode": 34.1, "result": 22.9}, {"series": "Plus/Minus 10%", "part": "lower", "mode": 97.7, "result": 85.9}
                    ]},
                     "mark": {"type": "line", "color": "#222", "strokeWidth": 1, "clip": false},
                     "encoding": {
                       "x": {"field": "mode", "type": "quantitative", "scale": {"domain": [7.552, 121.24], "nice": false, "zero": false}},
                       "y": {"field": "result", "type": "quantitative", "scale": {"domain": [5.137, 124.9], "nice": false, "zero": false}},
                       "detail": {"field": "part"},
                       "strokeDash": {"field": "series", "type": "nominal", "scale": {"domain": ["Ideal Fit", "Plus/Minus 10%"], "range": [[5, 4], [2, 2]]}, "legend": null}
                     }},
                    {"data": {"values": [{"series": "Ideal Fit"}]},
                     "mark": {"type": "rule", "color": "#222", "strokeWidth": 1, "strokeDash": [5, 4]},
                     "encoding": {
                       "x": {"datum": 9.92, "type": "quantitative", "scale": {"domain": [7.552, 121.24], "nice": false, "zero": false}},
                       "x2": {"datum": 17.97},
                       "y": {"datum": 8.36, "type": "quantitative", "scale": {"domain": [5.137, 124.9], "nice": false, "zero": false}}
                     }},
                    {"data": {"values": [{"series": "Ideal Fit"}]},
                     "mark": {"type": "text", "fontSize": 6.5, "align": "left", "baseline": "middle"},
                     "encoding": {
                       "x": {"datum": 19.4, "type": "quantitative", "scale": {"domain": [7.552, 121.24], "nice": false, "zero": false}},
                       "y": {"datum": 8.36, "type": "quantitative", "scale": {"domain": [5.137, 124.9], "nice": false, "zero": false}},
                       "text": {"field": "series"}
                     }},
                    {"data": {"values": [{"series": "Plus/Minus 10%"}]},
                     "mark": {"type": "rule", "color": "#222", "strokeWidth": 1, "strokeDash": [2, 2]},
                     "encoding": {
                       "x": {"datum": 37.4, "type": "quantitative", "scale": {"domain": [7.552, 121.24], "nice": false, "zero": false}},
                       "x2": {"datum": 45.31},
                       "y": {"datum": 8.36, "type": "quantitative", "scale": {"domain": [5.137, 124.9], "nice": false, "zero": false}}
                     }},
                    {"data": {"values": [{"series": "Plus/Minus 10%"}]},
                     "mark": {"type": "text", "fontSize": 6.5, "align": "left", "baseline": "middle"},
                     "encoding": {
                       "x": {"datum": 45.9, "type": "quantitative", "scale": {"domain": [7.552, 121.24], "nice": false, "zero": false}},
                       "y": {"datum": 8.36, "type": "quantitative", "scale": {"domain": [5.137, 124.9], "nice": false, "zero": false}},
                       "text": {"field": "series"}
                     }},
                    {"data": {"values": [{"series": "Your Method"}]},
                     "mark": {"type": "point", "stroke": "#111", "strokeWidth": 1, "opacity": 1, "size": 40},
                     "encoding": {
                       "x": {"datum": 75.0, "type": "quantitative", "scale": {"domain": [7.552, 121.24], "nice": false, "zero": false}},
                       "y": {"datum": 8.36, "type": "quantitative", "scale": {"domain": [5.137, 124.9], "nice": false, "zero": false}},
                       "shape": {"field": "series", "type": "nominal", "scale": {"domain": ["Your Method", "Your result"], "range": ["diamond", "M0,-1L0.225,-0.309L0.951,-0.309L0.363,0.118L0.588,0.809L0,0.382L-0.588,0.809L-0.363,0.118L-0.951,-0.309L-0.225,-0.309Z"]}, "legend": null},
                       "fill": {"field": "series", "type": "nominal", "scale": {"domain": ["Your Method", "Your result"], "range": ["transparent", "#111"]}, "legend": null}
                     }},
                    {"data": {"values": [{"series": "Your Method"}]},
                     "mark": {"type": "text", "fontSize": 6.5, "align": "left", "baseline": "middle"},
                     "encoding": {
                       "x": {"datum": 77.2, "type": "quantitative", "scale": {"domain": [7.552, 121.24], "nice": false, "zero": false}},
                       "y": {"datum": 8.36, "type": "quantitative", "scale": {"domain": [5.137, 124.9], "nice": false, "zero": false}},
                       "text": {"field": "series"}
                     }},
                    {"data": {"values": [{"series": "Your result"}]},
                     "mark": {"type": "point", "stroke": "#111", "strokeWidth": 1, "opacity": 1, "size": 40},
                     "encoding": {
                       "x": {"datum": 100.5, "type": "quantitative", "scale": {"domain": [7.552, 121.24], "nice": false, "zero": false}},
                       "y": {"datum": 8.36, "type": "quantitative", "scale": {"domain": [5.137, 124.9], "nice": false, "zero": false}},
                       "shape": {"field": "series", "type": "nominal", "scale": {"domain": ["Your Method", "Your result"], "range": ["diamond", "M0,-1L0.225,-0.309L0.951,-0.309L0.363,0.118L0.588,0.809L0,0.382L-0.588,0.809L-0.363,0.118L-0.951,-0.309L-0.225,-0.309Z"]}, "legend": null},
                       "fill": {"field": "series", "type": "nominal", "scale": {"domain": ["Your Method", "Your result"], "range": ["transparent", "#111"]}, "legend": null}
                     }},
                    {"data": {"values": [{"series": "Your result"}]},
                     "mark": {"type": "text", "fontSize": 6.5, "align": "left", "baseline": "middle"},
                     "encoding": {
                       "x": {"datum": 102.3, "type": "quantitative", "scale": {"domain": [7.552, 121.24], "nice": false, "zero": false}},
                       "y": {"datum": 8.36, "type": "quantitative", "scale": {"domain": [5.137, 124.9], "nice": false, "zero": false}},
                       "text": {"field": "series"}
                     }},
                    {"data": {"values": [{"note": "Regression Line Statistics"}]},
                     "mark": {"type": "point", "shape": "M1,0C1,0.1301 0.5523,0.2356 0,0.2356C-0.5523,0.2356 -1,0.1301 -1,0C-1,-0.1301 -0.5523,-0.2356 0,-0.2356C0.5523,-0.2356 1,-0.1301 1,0Z", "size": 64009, "color": "#6aaf45", "strokeWidth": 1.2, "opacity": 1, "clip": false},
                     "encoding": {
                       "x": {"datum": 62.0, "type": "quantitative", "scale": {"domain": [7.552, 121.24], "nice": false, "zero": false}},
                       "y": {"datum": 136.2, "type": "quantitative", "scale": {"domain": [5.137, 124.9], "nice": false, "zero": false}}
                     }},
                    {"data": {"values": [{"note": ["Regression Line", "Statistics"]}]},
                     "mark": {"type": "text", "color": "#6aaf45", "fontSize": 11, "fontWeight": "bold", "fontStyle": "italic", "lineHeight": 14, "align": "center", "baseline": "middle", "clip": false},
                     "encoding": {
                       "x": {"datum": 47.6, "type": "quantitative", "scale": {"domain": [7.552, 121.24], "nice": false, "zero": false}},
                       "y": {"datum": 93.3, "type": "quantitative", "scale": {"domain": [5.137, 124.9], "nice": false, "zero": false}},
                       "text": {"field": "note"}
                     }},
                    {"data": {"values": [{"note": "Regression Line Statistics"}]},
                     "mark": {"type": "rule", "color": "#6aaf45", "strokeWidth": 1.5, "clip": false},
                     "encoding": {
                       "x": {"datum": 45.0, "type": "quantitative", "scale": {"domain": [7.552, 121.24], "nice": false, "zero": false}},
                       "y": {"datum": 101.8, "type": "quantitative", "scale": {"domain": [5.137, 124.9], "nice": false, "zero": false}},
                       "x2": {"datum": 48.8}, "y2": {"datum": 123.3}
                     }},
                    {"data": {"values": [{"note": "Regression Line Statistics"}]},
                     "mark": {"type": "point", "shape": "M0,0L0.6,1.8L-0.6,1.8Z", "size": 100, "filled": true, "color": "#6aaf45", "opacity": 1, "angle": 11.3, "clip": false},
                     "encoding": {
                       "x": {"datum": 48.8, "type": "quantitative", "scale": {"domain": [7.552, 121.24], "nice": false, "zero": false}},
                       "y": {"datum": 123.3, "type": "quantitative", "scale": {"domain": [5.137, 124.9], "nice": false, "zero": false}}
                     }},
                    {"data": {"values": [{"note": ["45° Line", "Of Perfect Fit"]}]},
                     "mark": {"type": "text", "color": "#6aaf45", "fontSize": 11, "fontWeight": "bold", "fontStyle": "italic", "lineHeight": 12, "align": "center", "baseline": "middle", "clip": false},
                     "encoding": {
                       "x": {"datum": 95.2, "type": "quantitative", "scale": {"domain": [7.552, 121.24], "nice": false, "zero": false}},
                       "y": {"datum": 53.7, "type": "quantitative", "scale": {"domain": [5.137, 124.9], "nice": false, "zero": false}},
                       "text": {"field": "note"}
                     }},
                    {"data": {"values": [{"note": "45° Line"}]},
                     "mark": {"type": "rule", "color": "#6aaf45", "strokeWidth": 1.5, "clip": false},
                     "encoding": {
                       "x": {"datum": 88.6, "type": "quantitative", "scale": {"domain": [7.552, 121.24], "nice": false, "zero": false}},
                       "y": {"datum": 61.5, "type": "quantitative", "scale": {"domain": [5.137, 124.9], "nice": false, "zero": false}},
                       "x2": {"datum": 80.5}, "y2": {"datum": 85.7}
                     }},
                    {"data": {"values": [{"note": "45° Line"}]},
                     "mark": {"type": "point", "shape": "M0,0L0.6,1.8L-0.6,1.8Z", "size": 100, "filled": true, "color": "#6aaf45", "opacity": 1, "angle": -20.7, "clip": false},
                     "encoding": {
                       "x": {"datum": 80.5, "type": "quantitative", "scale": {"domain": [7.552, 121.24], "nice": false, "zero": false}},
                       "y": {"datum": 85.7, "type": "quantitative", "scale": {"domain": [5.137, 124.9], "nice": false, "zero": false}}
                     }},
                    {"data": {"values": [{"note": "±10% From 45° Line"}]},
                     "mark": {"type": "text", "color": "#6aaf45", "fontSize": 11, "fontWeight": "bold", "fontStyle": "italic", "align": "center", "baseline": "middle", "clip": false},
                     "encoding": {
                       "x": {"datum": 71.0, "type": "quantitative", "scale": {"domain": [7.552, 121.24], "nice": false, "zero": false}},
                       "y": {"datum": -6.1, "type": "quantitative", "scale": {"domain": [5.137, 124.9], "nice": false, "zero": false}},
                       "text": {"field": "note"}
                     }},
                    {"data": {"values": [{"note": "+10% line"}]},
                     "mark": {"type": "rule", "color": "#6aaf45", "strokeWidth": 1.5, "clip": false},
                     "encoding": {
                       "x": {"datum": 69.1, "type": "quantitative", "scale": {"domain": [7.552, 121.24], "nice": false, "zero": false}},
                       "y": {"datum": 0.3, "type": "quantitative", "scale": {"domain": [5.137, 124.9], "nice": false, "zero": false}},
                       "x2": {"datum": 45.0}, "y2": {"datum": 57.2}
                     }},
                    {"data": {"values": [{"note": "+10% line"}]},
                     "mark": {"type": "point", "shape": "M0,0L0.6,1.8L-0.6,1.8Z", "size": 100, "filled": true, "color": "#6aaf45", "opacity": 1, "angle": -25.7, "clip": false},
                     "encoding": {
                       "x": {"datum": 45.0, "type": "quantitative", "scale": {"domain": [7.552, 121.24], "nice": false, "zero": false}},
                       "y": {"datum": 57.2, "type": "quantitative", "scale": {"domain": [5.137, 124.9], "nice": false, "zero": false}}
                     }},
                    {"data": {"values": [{"note": "-10% line"}]},
                     "mark": {"type": "rule", "color": "#6aaf45", "strokeWidth": 1.5, "clip": false},
                     "encoding": {
                       "x": {"datum": 69.1, "type": "quantitative", "scale": {"domain": [7.552, 121.24], "nice": false, "zero": false}},
                       "y": {"datum": 0.3, "type": "quantitative", "scale": {"domain": [5.137, 124.9], "nice": false, "zero": false}},
                       "x2": {"datum": 61.1}, "y2": {"datum": 47.6}
                     }},
                    {"data": {"values": [{"note": "-10% line"}]},
                     "mark": {"type": "point", "shape": "M0,0L0.6,1.8L-0.6,1.8Z", "size": 100, "filled": true, "color": "#6aaf45", "opacity": 1, "angle": -10.9, "clip": false},
                     "encoding": {
                       "x": {"datum": 61.1, "type": "quantitative", "scale": {"domain": [7.552, 121.24], "nice": false, "zero": false}},
                       "y": {"datum": 47.6, "type": "quantitative", "scale": {"domain": [5.137, 124.9], "nice": false, "zero": false}}
                     }}
                  ]
                }
              ]
            }
          ]
        }
      ]
    }
  ]
}
